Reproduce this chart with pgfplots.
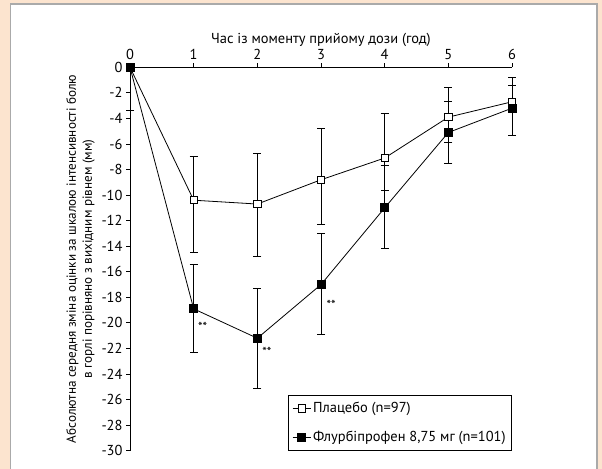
\documentclass[border=0pt]{standalone}
\usepackage{fontspec}
\setmainfont{PT Sans}
\usepackage{pgfplots}
\pgfplotsset{compat=1.18}
\definecolor{peach}{RGB}{252,228,207}
\definecolor{panelgray}{RGB}{170,170,170}

\begin{document}
\begin{tikzpicture}
\useasboundingbox (0,0) rectangle (602bp,469bp);
\fill[peach] (0,0) rectangle (602bp,469bp);
\fill[white] (10.7bp,-5bp) rectangle (597bp,465bp);
\draw[panelgray,line width=1.2bp] (10.7bp,-5bp) -- (10.7bp,465bp) -- (597bp,465bp) -- (597bp,-5bp);
\begin{axis}[
    at={(130bp,18.3bp)},
    anchor=south west,
    scale only axis,
    width=382bp,
    height=383.4bp,
    xmin=0, xmax=6,
    ymin=-30, ymax=0,
    axis x line=top,
    axis y line=left,
    axis line style={-,black,line width=1bp},
    clip=false,
    font=\fontsize{14.5}{16}\selectfont,
    /pgf/number format/assume math mode=true,
    xtick={0,1,...,6},
    ytick={0,-2,-4,-6,-8,-10,-12,-14,-16,-18,-20,-22,-24,-26,-28,-30},
    yticklabels={0,-2,-4,-6,-8,-10,-12,-14,-16,-18,-20,-22,-24,-26,-28,-30},
    tick align=outside,
    major tick length=4bp,
    tick style={black,line width=0.8bp},
    xlabel={Час із моменту прийому дози (год)},
    xlabel style={font=\fontsize{14.5}{16}\selectfont,yshift=-4bp},
    ylabel={Абсолютна середня зміна оцінки за шкалою інтенсивності болю\\в горлі порівняно з вихідним рівнем (мм)},
    ylabel style={align=center,font=\fontsize{13.2}{16}\selectfont},
    legend style={at={(1,0)},anchor=south east,draw=black,line width=0.8bp,
        font=\fontsize{14.5}{16}\selectfont,inner xsep=4bp,inner ysep=5bp,
        row sep=13bp,cells={anchor=west}},
    legend cell align=left,
    legend image code/.code={\draw[mark repeat=2,mark phase=2] plot coordinates {(0bp,0bp) (9bp,0bp) (18bp,0bp)};},
    error bars/error bar style={black,line width=0.8bp},
    error bars/error mark options={rotate=90,mark size=4bp,line width=0.8bp},
]
\addplot[black,line width=0.8bp,mark=square*,mark options={fill=white,draw=black,mark size=3.6bp,line width=0.8bp},
    error bars/.cd,y dir=both,y explicit]
    table[x=x,y=y,y error plus=ep,y error minus=em] {
    x y ep em
    0 0 0 0
    1 -10.4 3.4 4.1
    2 -10.7 4.0 4.1
    3 -8.8 4.0 3.5
    4 -7.1 3.5 2.5
    5 -3.9 2.3 2.0
    6 -2.7 1.9 0.6
    };
\addlegendentry{Плацебо (n=97)}
\addplot[black,line width=0.8bp,mark=square*,mark options={fill=black,draw=black,mark size=4bp},
    error bars/.cd,y dir=both,y explicit]
    table[x=x,y=y,y error plus=ep,y error minus=em] {
    x y ep em
    0 0 0 3.4
    1 -18.9 3.5 3.4
    2 -21.2 3.9 3.9
    3 -17.0 4.0 3.9
    4 -11.0 3.3 3.2
    5 -5.1 2.4 2.4
    6 -3.2 1.8 2.1
    };
\addlegendentry{Флурбіпрофен 8,75 мг (n=101)}
\node[font=\fontsize{13}{13}\selectfont] at (axis cs:1.14,-20.3) {**};
\node[font=\fontsize{13}{13}\selectfont] at (axis cs:2.15,-22.3) {**};
\node[font=\fontsize{13}{13}\selectfont] at (axis cs:3.16,-18.6) {**};
\end{axis}
\end{tikzpicture}
\end{document}
